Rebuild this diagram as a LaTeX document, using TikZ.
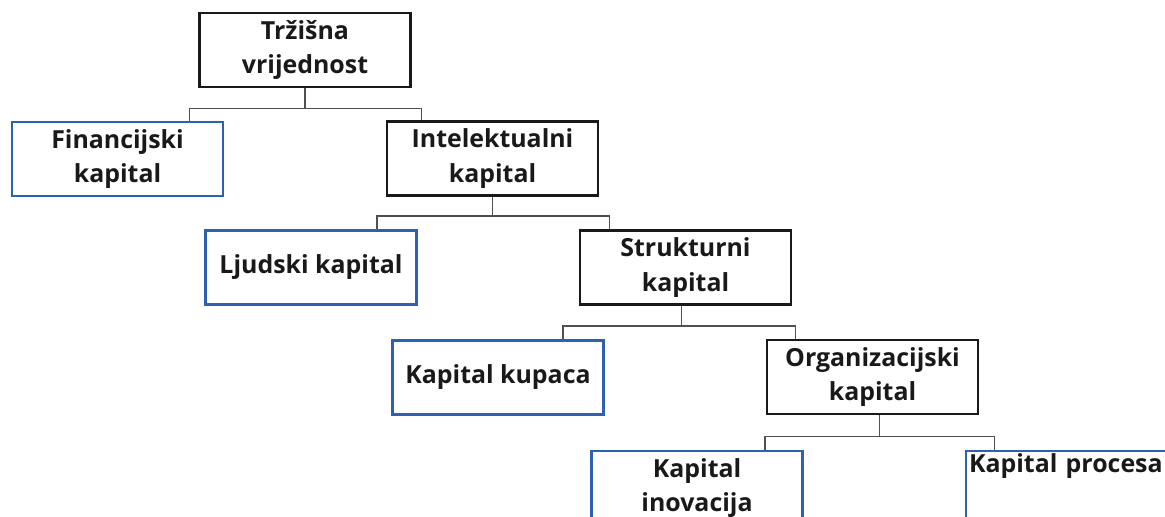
\documentclass[tikz,border=0pt]{standalone}
\usepackage{fontspec}
\setmainfont{Open Sans}
\definecolor{unitblue}{RGB}{46,98,176}
\definecolor{linkgray}{RGB}{80,80,80}
\tikzset{
  unit/.style={rectangle, minimum width=211bp, minimum height=74bp, inner sep=0pt, align=center,
    font=\fontsize{25}{35}\selectfont\bfseries, text=black!90},
  blackunit/.style={unit, draw=black!90, line width=2.8bp},
  blueunit/.style={unit, draw=unitblue, line width=2.8bp},
  link/.style={draw=linkgray, line width=1.7bp}
}

\begin{document}
\begin{tikzpicture}[x=1bp,y=-1bp]
\useasboundingbox (0,0) rectangle (1165,517);
\clip (0,0) rectangle (1165,517);

\node[blackunit] (trz) at (305,50) {Tržišna\\vrijednost};
\node[blueunit] (fin) at (117.5,159) {Financijski\\kapital};
\node[blackunit] (int) at (492.5,158.5) {Intelektualni\\kapital};
\node[blueunit] (lju) at (311,267.5) {Ljudski kapital};
\node[blackunit] (str) at (685.5,267.5) {Strukturni\\kapital};
\node[blueunit] (kup) at (498,377.5) {Kapital kupaca};
\node[blackunit] (org) at (872.5,377) {Organizacijski\\kapital};
\node[blueunit] (ino) at (697,488) {Kapital\\inovacija};
\node[blueunit, text width=211bp, align=left, text height=18bp, text depth=49bp] (pro) at (1071.5,488) {\hspace*{3bp}Kapital procesa};

\draw[link] (trz.south) -- ++(0,20) coordinate (trzfork);
\draw[link] ([xshift=-35bp]fin.north east) |- (trzfork) -| ([xshift=36bp]int.north west);
\draw[link] (int.south) -- ++(0,19) coordinate (intfork);
\draw[link] ([xshift=-41bp]lju.north east) |- (intfork) -| ([xshift=31bp]str.north west);
\draw[link] ([xshift=-4bp]str.south) -- ++(0,20) coordinate (strfork);
\draw[link] ([xshift=-42bp]kup.north east) |- (strfork) -| ([xshift=30bp]org.north west);
\draw[link] ([xshift=7bp]org.south) -- ++(0,21) coordinate (orgfork);
\draw[link] ([xshift=-39bp]ino.north east) |- (orgfork) -| ([xshift=30bp]pro.north west);
\end{tikzpicture}
\end{document}
